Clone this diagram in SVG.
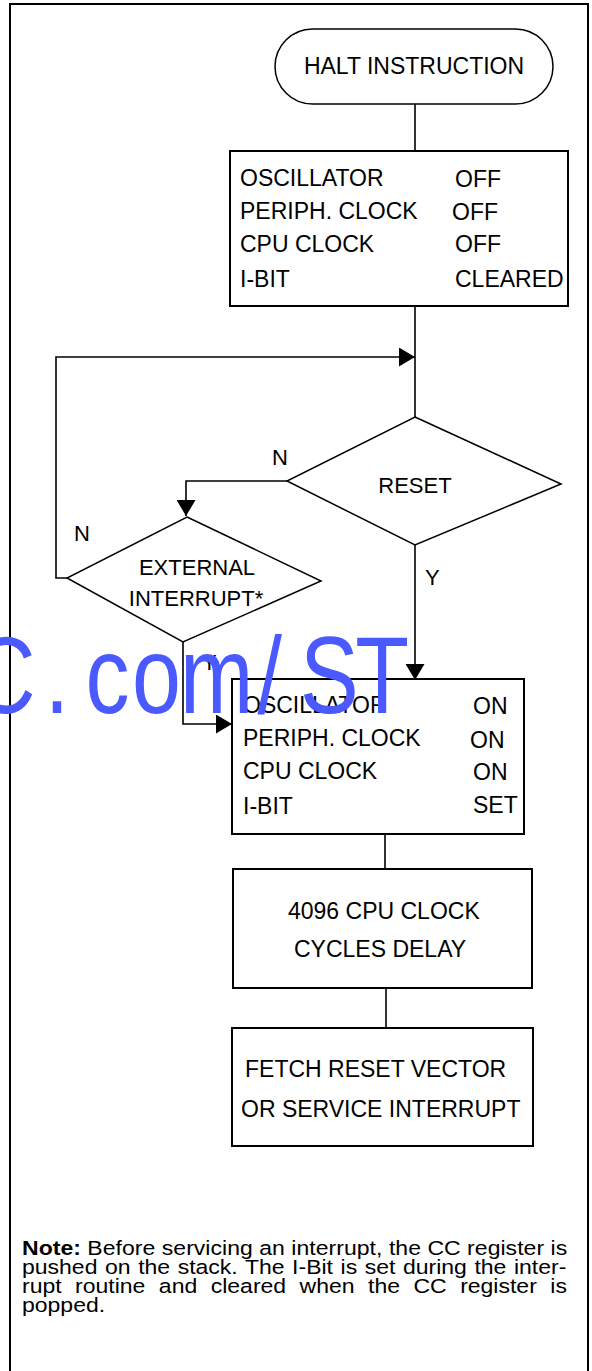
<svg xmlns="http://www.w3.org/2000/svg" width="592" height="1371" viewBox="0 0 592 1371">
<style>
text{font-family:"Liberation Sans",Arial,Helvetica,sans-serif;fill:#000}
.t{font-size:23px}
.d{font-size:22px}
.lbl{font-size:22px}
.note{font-size:19.5px}
.box{fill:#fff;stroke:#000;stroke-width:2}
.shape{fill:#fff;stroke:#000;stroke-width:1.5}
.ln{fill:none;stroke:#000;stroke-width:1.6}
.frame{fill:none;stroke:#000;stroke-width:2}
.wm{font-size:110px;fill:#4A5AFF}
</style>
<defs>
<marker id="ah" markerUnits="userSpaceOnUse" markerWidth="16" markerHeight="19" refX="16" refY="9.5" orient="auto">
<path d="M0,0 L16,9.5 L0,19 z" fill="#000"/>
</marker>
</defs>
<rect width="592" height="1371" fill="#fff"/>
<path class="frame" d="M10,1371 V4 H588 V1371"/>

<g id="connectors">
<line class="ln" x1="415" y1="104" x2="415" y2="151"/>
<line class="ln" x1="415" y1="306" x2="415" y2="417"/>
<polyline class="ln" points="67,578 56,578 56,357 415,357" marker-end="url(#ah)"/>
<polyline class="ln" points="287,481 186,481 186,516" marker-end="url(#ah)"/>
<line class="ln" x1="415" y1="545" x2="415" y2="680" marker-end="url(#ah)"/>
<polyline class="ln" points="183,642 183,724 232,724" marker-end="url(#ah)"/>
<line class="ln" x1="385" y1="834" x2="385" y2="869"/>
<line class="ln" x1="386" y1="988" x2="386" y2="1028"/>
</g>

<g id="halt">
<rect class="shape" x="275" y="29" width="278" height="75" rx="37.5"/>
<text class="t" x="414" y="74" text-anchor="middle">HALT INSTRUCTION</text>
</g>

<g id="state-off">
<rect class="box" x="230" y="151" width="338" height="155"/>
<text class="t" x="240" y="186">OSCILLATOR</text>
<text class="t" x="455" y="187">OFF</text>
<text class="t" x="240" y="219">PERIPH. CLOCK</text>
<text class="t" x="452" y="220">OFF</text>
<text class="t" x="240" y="252">CPU CLOCK</text>
<text class="t" x="455" y="252">OFF</text>
<text class="t" x="240" y="287">I-BIT</text>
<text class="t" x="455" y="287">CLEARED</text>
</g>

<g id="reset">
<polygon class="shape" points="415,417 561,484 415,545 287,481"/>
<text class="d" x="415" y="493" text-anchor="middle">RESET</text>
</g>

<g id="ext-int">
<polygon class="shape" points="187,517 321,581 183,642 67,578"/>
<text class="d" x="197" y="575" text-anchor="middle">EXTERNAL</text>
<text class="d" x="196" y="606" text-anchor="middle">INTERRUPT*</text>
</g>

<g id="labels">
<text class="lbl" x="272" y="465">N</text>
<text class="lbl" x="74" y="541">N</text>
<text class="lbl" x="425" y="585">Y</text>
<text class="lbl" x="202" y="670">Y</text>
</g>

<g id="state-on">
<rect class="box" x="232" y="679" width="292" height="155"/>
<text class="t" x="243" y="713">OSCILLATOR</text>
<text class="t" x="473" y="714">ON</text>
<text class="t" x="243" y="746">PERIPH. CLOCK</text>
<text class="t" x="470" y="748">ON</text>
<text class="t" x="243" y="779">CPU CLOCK</text>
<text class="t" x="473" y="780">ON</text>
<text class="t" x="243" y="814">I-BIT</text>
<text class="t" x="473" y="813">SET</text>
</g>

<g id="delay">
<rect class="box" x="233" y="869" width="299" height="119"/>
<text class="t" x="288" y="919">4096 CPU CLOCK</text>
<text class="t" x="294" y="957">CYCLES DELAY</text>
</g>

<g id="fetch">
<rect class="box" x="232" y="1028" width="301" height="118"/>
<text class="t" x="245" y="1077">FETCH RESET VECTOR</text>
<text class="t" x="241" y="1117">OR SERVICE INTERRUPT</text>
</g>

<g id="note" transform="translate(22,0) scale(1.18,1)">
<text class="note" x="0" y="1255.5" textLength="462" lengthAdjust="spacing"><tspan font-weight="bold">Note:</tspan> Before servicing an interrupt, the CC register is</text>
<text class="note" x="0" y="1274.5" word-spacing="1">pushed on the stack. The I-Bit is set during the inter-</text>
<text class="note" x="0" y="1293.5" word-spacing="6">rupt routine and cleared when the CC register is</text>
<text class="note" x="0" y="1312.5">popped.</text>
</g>

<g id="watermark">
<text class="wm" y="713" transform="scale(0.8,1)" x="-35 56 107 165 225 322 375 444">C.com/ST</text>
</g>
</svg>
